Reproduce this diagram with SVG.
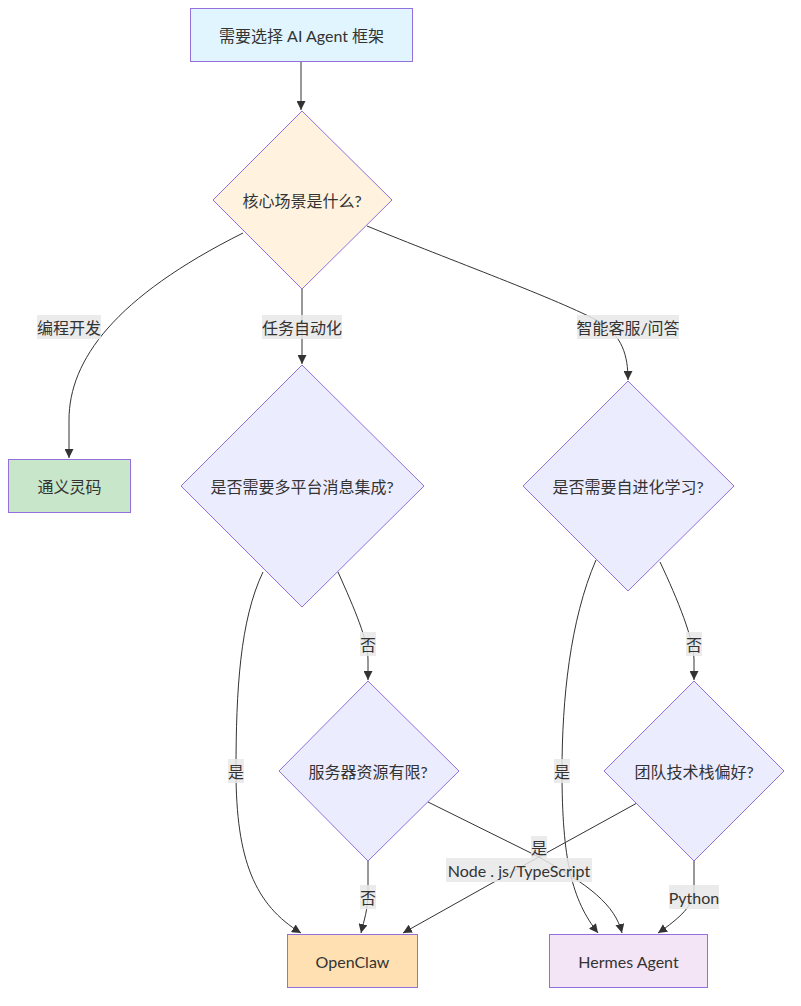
<svg xmlns="http://www.w3.org/2000/svg" width="801" height="1006" viewBox="0 0 801 1006">
<defs>
<marker id="arr" viewBox="0 0 10 10" refX="10" refY="5" markerWidth="9" markerHeight="9" markerUnits="userSpaceOnUse" orient="auto">
<path d="M0,0 L10,5 L0,10 z" fill="#333"/>
</marker>
<style>
text{font-family:Lato,"Noto Sans CJK SC",sans-serif;font-size:16px;fill:#333;text-anchor:middle;dominant-baseline:central}
.node{stroke:#9370DB;stroke-width:1}
.edge{fill:none;stroke:#333;stroke-width:1;marker-end:url(#arr)}
.lbl{fill:#e8e8e8;fill-opacity:0.85}
</style>
</defs>
<rect width="801" height="1006" fill="#fff"/>
<g id="edges">
<path class="edge" d="M301,61 L301,110"/>
<path class="edge" d="M243,233 C115,297 69,360 69,420 L69,458"/>
<path class="edge" d="M302,289 L302,364"/>
<path class="edge" d="M367,226 C450,260 560,300 600,322 C622,336 628,355 628,380"/>
<path class="edge" d="M263,572 C240,620 236,690 236,771 C236,860 255,905 301,933"/>
<path class="edge" d="M338,572 C355,610 368,640 368,660 L368,680"/>
<path class="edge" d="M596,560 C570,620 562,700 562,771 C562,860 572,900 598,933"/>
<path class="edge" d="M660,562 C678,600 694,640 694,660 L694,680"/>
<path class="edge" d="M368,861 L368,892 C368,910 364,920 361,933"/>
<path class="edge" d="M428,802 L535,855 C590,885 615,905 622,933"/>
<path class="edge" d="M637,803 L519,868 L403,933"/>
<path class="edge" d="M694,861 L694,890 C694,905 680,918 658,933"/>
</g>
<g id="edge-labels">
<rect class="lbl" x="37" y="315" width="64" height="24"/><text x="69" y="327">编程开发</text>
<rect class="lbl" x="262" y="315" width="80" height="24"/><text x="302" y="327">任务自动化</text>
<rect class="lbl" x="577" y="315" width="102" height="24"/><text x="628" y="327">智能客服/问答</text>
<rect class="lbl" x="360" y="632" width="16" height="24"/><text x="368" y="644">否</text>
<rect class="lbl" x="686" y="632" width="16" height="24"/><text x="694" y="644">否</text>
<rect class="lbl" x="228" y="759" width="16" height="24"/><text x="236" y="771">是</text>
<rect class="lbl" x="554" y="759" width="16" height="24"/><text x="562" y="771">是</text>
<rect class="lbl" x="360" y="885" width="16" height="24"/><text x="368" y="897">否</text>
<rect class="lbl" x="531" y="836" width="16" height="22"/><text x="539" y="847">是</text>
<rect class="lbl" x="446" y="858" width="146" height="24"/><text x="519" y="870">Node . js/TypeScript</text>
<rect class="lbl" x="669" y="885" width="50" height="24"/><text x="694" y="897">Python</text>
</g>
<g id="start">
<rect class="node" x="190.5" y="8.5" width="222" height="53" fill="#e1f5fe"/>
<text x="301.5" y="35">需要选择 AI Agent 框架</text>
</g>
<g id="scene">
<polygon class="node" points="302,111 392,200 302,289 213,200" fill="#fff3e0"/>
<text x="302" y="200">核心场景是什么?</text>
</g>
<g id="tongyi">
<rect class="node" x="8.5" y="459.5" width="122" height="53" fill="#c8e6c9"/>
<text x="69.5" y="486">通义灵码</text>
</g>
<g id="multi">
<polygon class="node" points="302,365 424,486 302,607 181,486" fill="#ececff"/>
<text x="302" y="486">是否需要多平台消息集成?</text>
</g>
<g id="evolve">
<polygon class="node" points="628,381 734,486 628,591 523,486" fill="#ececff"/>
<text x="628" y="486">是否需要自进化学习?</text>
</g>
<g id="server">
<polygon class="node" points="368,681 459,771 368,861 279,771" fill="#ececff"/>
<text x="368" y="771">服务器资源有限?</text>
</g>
<g id="stack">
<polygon class="node" points="694,681 784,771 694,861 604,771" fill="#ececff"/>
<text x="694" y="771">团队技术栈偏好?</text>
</g>
<g id="openclaw">
<rect class="node" x="287.5" y="934.5" width="130" height="53" fill="#ffe0b2"/>
<text x="352.5" y="961">OpenClaw</text>
</g>
<g id="hermes">
<rect class="node" x="549.5" y="934.5" width="158" height="53" fill="#f3e5f5"/>
<text x="628.5" y="961">Hermes Agent</text>
</g>
</svg>
